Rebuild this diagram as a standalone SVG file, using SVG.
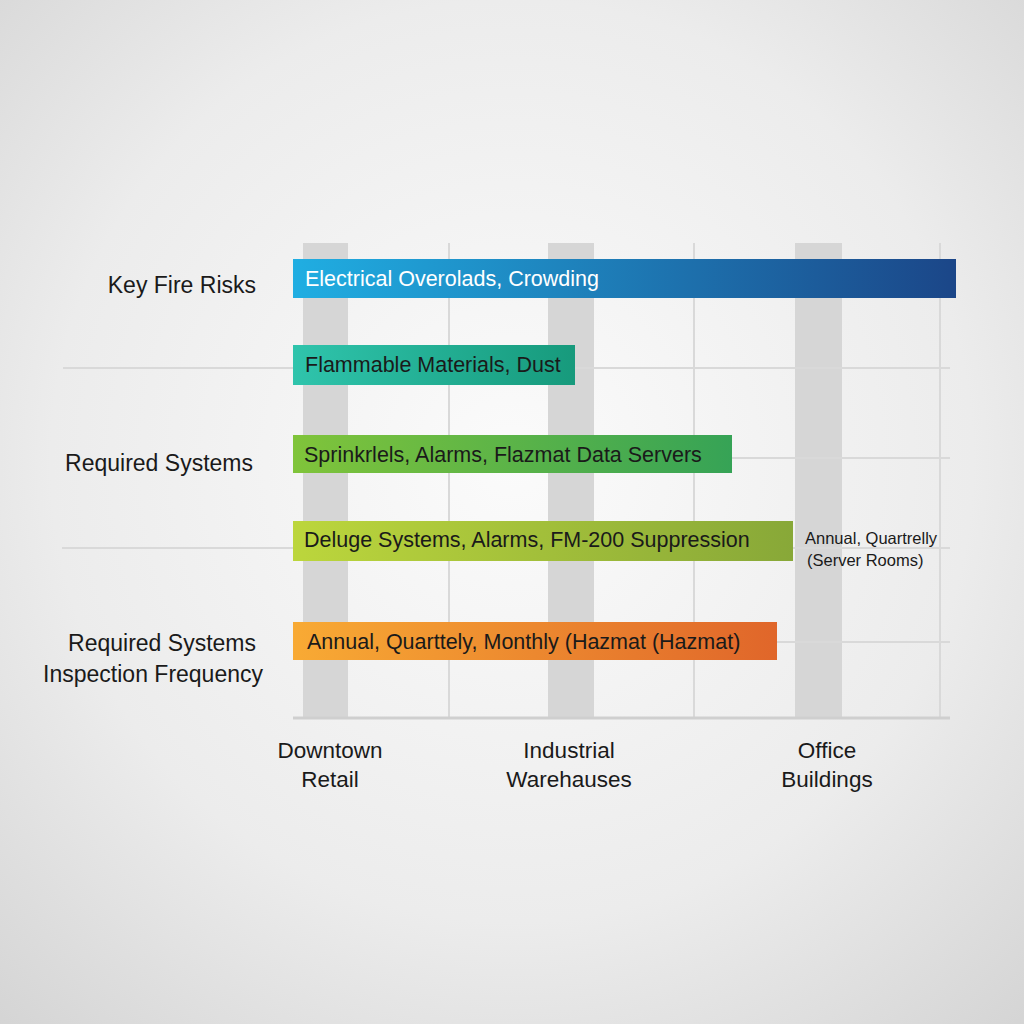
<svg xmlns="http://www.w3.org/2000/svg" width="1024" height="1024" viewBox="0 0 1024 1024">
<defs>
<radialGradient id="bg" cx="0.5" cy="0.45" r="0.75"><stop offset="0" stop-color="#fbfbfb"/><stop offset="0.6" stop-color="#ececec"/><stop offset="1" stop-color="#d4d4d4"/></radialGradient>
<linearGradient id="g1"><stop offset="0" stop-color="#20aee2"/><stop offset="1" stop-color="#1b4688"/></linearGradient>
<linearGradient id="g2"><stop offset="0" stop-color="#2fc4ac"/><stop offset="1" stop-color="#179a7c"/></linearGradient>
<linearGradient id="g3"><stop offset="0" stop-color="#80c43a"/><stop offset="1" stop-color="#36a356"/></linearGradient>
<linearGradient id="g4"><stop offset="0" stop-color="#bcd63c"/><stop offset="1" stop-color="#88a838"/></linearGradient>
<linearGradient id="g5"><stop offset="0" stop-color="#f8aa34"/><stop offset="1" stop-color="#e0662a"/></linearGradient>
</defs>
<style>
text{font-family:"Liberation Sans",Arial,sans-serif;fill:#1a1a1a}
.lbl{font-size:23px;text-anchor:end}
.bar{font-size:21.5px}
.ax{font-size:22.5px;text-anchor:middle}
.col{fill:#d6d6d6}
.grid{stroke:#d9d9d9;stroke-width:2;fill:none}
</style>
<rect width="1024" height="1024" fill="url(#bg)"/>
<g id="grid">
<rect class="col" x="303" y="243" width="45" height="475"/>
<rect class="col" x="548" y="243" width="46" height="475"/>
<rect class="col" x="795" y="243" width="47" height="475"/>
<path class="grid" d="M449 243V718M694 243V718M940 243V718M63 368H950M293 458H950M62 548H950M293 642H950"/>
<path d="M293 718H950" stroke="#cfcfcf" stroke-width="3"/>
</g>
<g id="bar1"><rect x="293" y="259" width="663" height="39" fill="url(#g1)"/><text class="bar" x="305" y="286" style="fill:#fff">Electrical Overolads, Crowding</text></g>
<g id="bar2"><rect x="293" y="345" width="282" height="40" fill="url(#g2)"/><text class="bar" x="305" y="372">Flammable Materials, Dust</text></g>
<g id="bar3"><rect x="293" y="435" width="439" height="38" fill="url(#g3)"/><text class="bar" x="304" y="462">Sprinkrlels, Alarms, Flazmat Data Servers</text></g>
<g id="bar4"><rect x="293" y="521" width="500" height="40" fill="url(#g4)"/><text class="bar" x="304" y="547">Deluge Systems, Alarms, FM-200 Suppression</text></g>
<g id="bar5"><rect x="293" y="622" width="484" height="38" fill="url(#g5)"/><text class="bar" x="307" y="649">Annual, Quarttely, Monthly (Hazmat (Hazmat)</text></g>
<g id="labels">
<text class="lbl" x="256" y="293">Key Fire Risks</text>
<text class="lbl" x="253" y="471">Required Systems</text>
<text class="lbl" x="256" y="651">Required Systems</text>
<text class="lbl" x="263" y="682">Inspection Frequency</text>
<text x="805" y="544" font-size="16.5">Annual, Quartrelly</text>
<text x="807" y="566" font-size="16.5">(Server Rooms)</text>
<text class="ax" x="330" y="758">Downtown</text><text class="ax" x="330" y="787">Retail</text>
<text class="ax" x="569" y="758">Industrial</text><text class="ax" x="569" y="787">Warehauses</text>
<text class="ax" x="827" y="758">Office</text><text class="ax" x="827" y="787">Buildings</text>
</g>
</svg>
